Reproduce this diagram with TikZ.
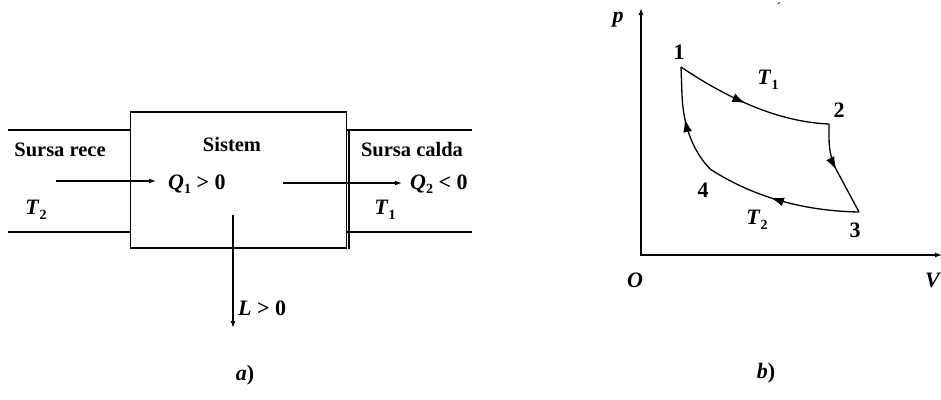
\documentclass[tikz,border=0pt]{standalone}
\usepackage{fontspec}
\setmainfont{Liberation Serif}
\usetikzlibrary{arrows.meta,decorations.markings}
\newcommand{\subs}[1]{\raisebox{-0.45ex}{\fontsize{14}{14}\selectfont #1}}
\begin{document}
\begin{tikzpicture}[x=1pt,y=-1pt,
  wlbl/.style={font=\fontsize{20.5}{22}\selectfont\bfseries, inner sep=0pt},
  lbl/.style={font=\fontsize{22}{24}\selectfont\bfseries, inner sep=0pt},
  ilbl/.style={font=\fontsize{22}{24}\selectfont\bfseries\itshape, inner sep=0pt},
  ln/.style={line width=1.3pt},
  arr/.style={ln,-{Latex[length=7pt,width=5pt]}},
  midarrow/.style={postaction={decorate},decoration={markings,mark=at position #1 with {\arrow{Latex[length=13pt,width=9pt]}}}}
]
\useasboundingbox (0,0) rectangle (941,399);
% ---------- a) ----------
\node[draw, line width=1.4pt, minimum width=216pt, minimum height=136pt, inner sep=0pt] (box) at (238.7,179.8) {};
\coordinate (lt) at (8,130);
\coordinate (lb) at (8,232);
\coordinate (rt) at (472,130);
\coordinate (rb) at (472,232);
\draw[ln] (lt) -- (lt -| box.west);
\draw[ln] (lb) -- (lb -| box.west);
\draw[ln] (rt) -- (rt -| box.east);
\draw[ln] (rb) -- (rb -| box.east);
\draw[line width=1.3pt] ([xshift=1.5pt]rt -| box.east) -- ([xshift=1.5pt]box.south east);

\node[wlbl] (rece) at (60,150) {Sursa rece};
\node[wlbl] (sistem) at (232,144) {Sistem};
\node[wlbl] (calda) at (412,150) {Sursa calda};

\node[lbl, anchor=west] (q1) at (168,184) {\textit{Q}\subs{1} > 0};
\node[lbl, anchor=west] (q2) at (410,184) {\textit{Q}\subs{2} < 0};
\node[lbl] (t2) at (36,210) {\textit{T}\subs{2}};
\node[lbl] (t1) at (385,210) {\textit{T}\subs{1}};
\node[lbl, anchor=west] (L) at (238,308) {\textit{L} > 0};

\coordinate (q1s) at (56,181);
\coordinate (q2s) at (283,183);
\coordinate (ls) at (233,215);
\coordinate (le) at (233,328);
\draw[arr] (q1s) -- ([xshift=-12pt]q1.west |- q1s);
\draw[arr] (q2s) -- ([xshift=-8pt]q2.west |- q2s);
\draw[arr] (ls) -- (le);

\node[ilbl] (capa) at (245,375) {a\textup{)}};

% ---------- b) ----------
\coordinate (O) at (641,255);
\coordinate (ptop) at (641,8);
\coordinate (vend) at (942,255);
\draw[ln, {Latex[length=7pt,width=5pt]}-{Latex[length=7pt,width=5pt]}] (ptop) -- (O) -- (vend);

\node[ilbl] (p) at (618,20) {p};
\node[ilbl] (o) at (635,280) {O};
\node[ilbl, anchor=east] (v) at (940,280) {V};
\node[font=\fontsize{14}{14}\selectfont, inner sep=0pt] (tick) at (779,8) {´};

\coordinate (P1) at (681,67);
\coordinate (P2) at (829,124);
\coordinate (C23) at (837,171);
\coordinate (P3) at (859,212);
\coordinate (P4) at (710,169);
\coordinate (C41) at (682,95);

\draw[ln, midarrow=0.46] (P1) .. controls (730,100) and (780,122) .. (P2);
\draw[ln, midarrow=0.97] (P2) -- (829,137) .. controls (829,152) and (832,162) .. (C23);
\draw[ln] (C23) -- (P3);
\draw[ln, midarrow=0.57] (P3) .. controls (800,211) and (750,195) .. (P4);
\draw[ln, midarrow=0.52] (P4) .. controls (690,148) and (683,120) .. (C41) -- (P1);

\node[lbl] (n1) at (679,52) {1};
\node[lbl] (n2) at (839,110) {2};
\node[lbl] (n3) at (855,230) {3};
\node[lbl] (n4) at (703,190) {4};
\node[lbl] (T1) at (768,80) {\textit{T}\subs{1}};
\node[lbl] (T2) at (757,220) {\textit{T}\subs{2}};

\node[ilbl] (capb) at (766,373) {b\textup{)}};
\end{tikzpicture}
\end{document}
